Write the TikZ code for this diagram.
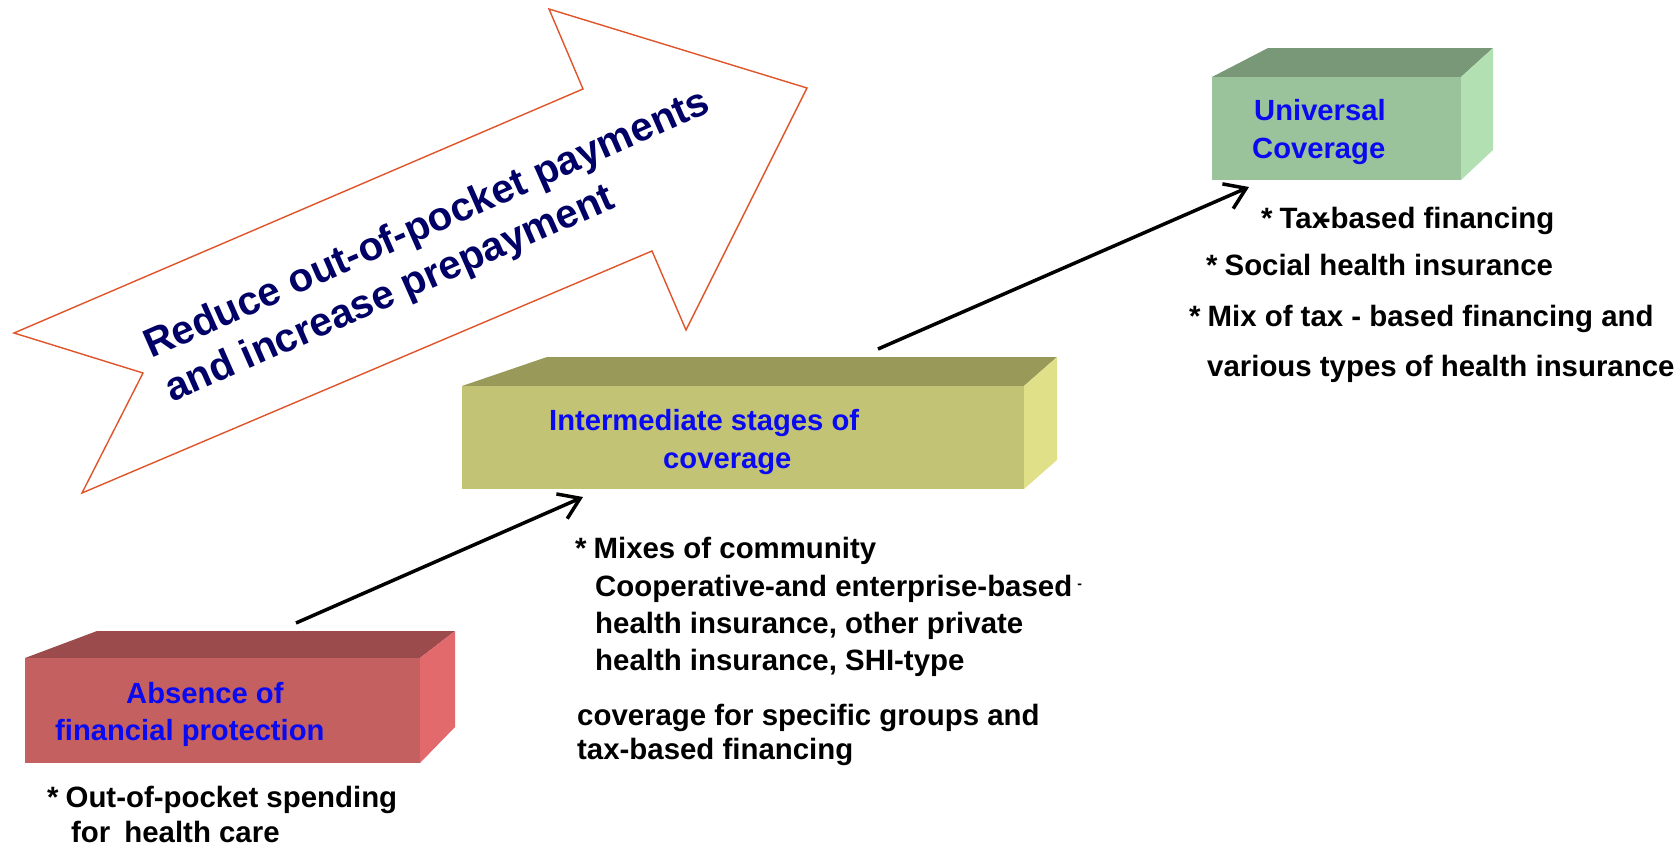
\documentclass[tikz,border=0pt]{standalone}
\usepackage{fontspec}
\setmainfont{Liberation Sans}
\usetikzlibrary{arrows.meta}
\definecolor{redF}{RGB}{196,96,96}
\definecolor{redT}{RGB}{155,75,75}
\definecolor{redS}{RGB}{226,106,108}
\definecolor{olvF}{RGB}{195,195,118}
\definecolor{olvT}{RGB}{153,153,90}
\definecolor{olvS}{RGB}{224,224,136}
\definecolor{grnF}{RGB}{155,195,155}
\definecolor{grnT}{RGB}{120,152,120}
\definecolor{grnS}{RGB}{178,224,178}
\definecolor{arrowred}{RGB}{224,84,42}
\definecolor{navy}{RGB}{0,0,102}
\definecolor{lblue}{RGB}{10,10,240}
\tikzset{
  boxlabel/.style={anchor=base west, inner sep=0pt, text=lblue, font=\fontsize{29.2}{34}\selectfont\bfseries},
  capline/.style={anchor=base west, inner sep=0pt, text=black, font=\fontsize{29.4}{34}\selectfont\bfseries},
  bigtext/.style={anchor=base west, inner sep=0pt, text=navy, rotate=23.8, font=\fontsize{40.3}{46}\selectfont\bfseries},
  conn/.style={line width=3.5pt, -{Straight Barb[length=20pt,width=27pt]}},
  bigarrow/.style={draw=arrowred, line width=1.4pt, fill=white, line join=miter}
}
\begin{document}
\begin{tikzpicture}[x=1pt,y=-1pt]
\useasboundingbox (0,0) rectangle (1678,846);

% big arrow
\draw[bigarrow] (14,333) -- (583,89) -- (549,9) -- (807,88) -- (686,330) -- (652,251) -- (82,493) -- (143,373) -- cycle;
\node[bigtext] (bt1) at (151,359) {Reduce out-of-pocket payments};
\node[bigtext] (bt2) at (172,403) {and increase prepayment};

% box 1
\fill[redT] (25,658) -- (97,631) -- (455,631) -- (420,658) -- cycle;
\fill[redS] (420,658) -- (455,631) -- (455,727) -- (420,763) -- cycle;
\fill[redF] (25,658) rectangle (420,763);
\node[boxlabel] (b1a) at (126,703) {Absence of};
\node[boxlabel] (b1b) at (55,740) {financial protection};

% box 2
\fill[olvT] (462,386) -- (547,357) -- (1057,357) -- (1024,386) -- cycle;
\fill[olvS] (1024,386) -- (1057,357) -- (1057,460) -- (1024,489) -- cycle;
\fill[olvF] (462,386) rectangle (1024,489);
\node[boxlabel] (b2a) at (549,430) {Intermediate stages of};
\node[boxlabel] (b2b) at (663,468) {coverage};

% box 3
\fill[grnT] (1212,77) -- (1268,48) -- (1493,48) -- (1461,77) -- cycle;
\fill[grnS] (1461,77) -- (1493,48) -- (1493,150) -- (1461,180) -- cycle;
\fill[grnF] (1212,77) rectangle (1461,180);
\node[boxlabel] (b3a) at (1254,120) {Universal};
\node[boxlabel] (b3b) at (1252,158) {Coverage};

% captions box 1
\node[capline] (c1a) at (47,807) {*\hspace{7pt}Out-of-pocket spending};
\node[capline] (c1b) at (71,842) {for\hspace{14pt}health care};

% captions box 2
\node[capline] (c2a) at (575,558) {*\hspace{7pt}Mixes of community};
\node[capline] (c2b) at (595,596) {Cooperative-and enterprise-based\hspace{5pt}\raisebox{8pt}{\fontsize{14}{14}\selectfont -}};
\node[capline] (c2c) at (595,633) {health insurance, other private};
\node[capline] (c2d) at (595,670) {health insurance, SHI-type};
\node[capline] (c2e) at (577,725) {coverage for specific groups and};
\node[capline] (c2f) at (577,759) {tax-based financing};

% captions box 3
\node[capline] (c3a) at (1261,228) {*\hspace{7pt}Tax\kern-0.25em-based financing};
\node[capline] (c3b) at (1206,275) {*\hspace{7pt}Social health insurance};
\node[capline] (c3c) at (1189,326) {*\hspace{7pt}Mix of tax - based financing and};
\node[capline] (c3d) at (1207,376) {various types of health insurance};

% connectors
\coordinate (s1) at (296,623);
\coordinate (e1) at (583,497);
\coordinate (s2) at (878,349);
\coordinate (e2) at (1249,187);
\draw[conn] (s1) -- (e1);
\draw[conn] (s2) -- (e2);
\end{tikzpicture}
\end{document}
